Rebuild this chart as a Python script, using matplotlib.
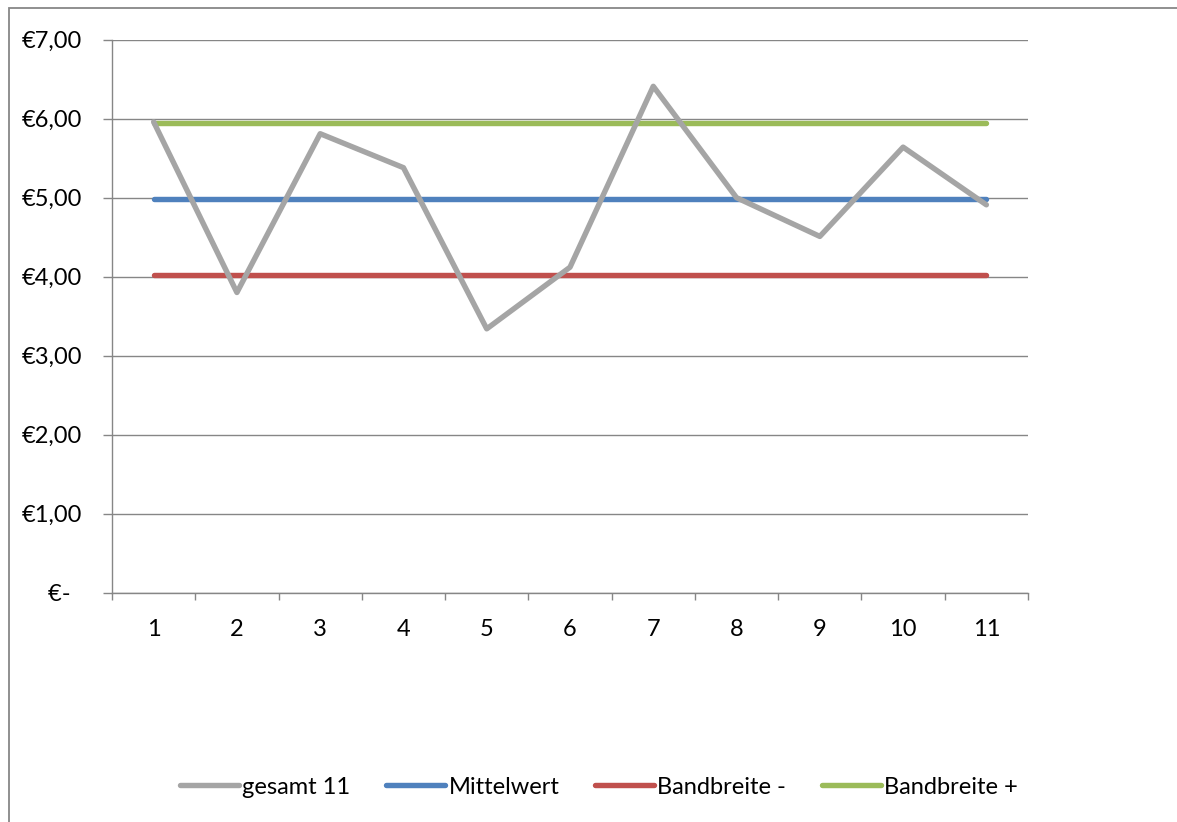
import matplotlib.pyplot as plt
from matplotlib.patches import Rectangle
from matplotlib.ticker import FixedLocator, FuncFormatter

plt.rcParams['font.family'] = ['Lato', 'DejaVu Sans']

# Preisreihe und Bandbreite
nummer = list(range(1, 12))
gesamt = [5.96, 3.80, 5.81, 5.38, 3.34, 4.12, 6.41, 5.00, 4.51, 5.64, 4.91]
mittelwert = [4.98] * 11
band_minus = [4.02] * 11
band_plus = [5.95] * 11

fig = plt.figure(figsize=(11.77, 8.22), dpi=100)
ax = fig.add_axes([112 / 1177, 1 - 592.7 / 822, 916 / 1177, 553 / 822])

lw = 3.9
ax.plot(nummer, gesamt, color='#A5A5A5', lw=lw, solid_capstyle='round', label='gesamt 11', zorder=3)
ax.plot(nummer, mittelwert, color='#4F81BD', lw=lw, solid_capstyle='round', label='Mittelwert', zorder=2)
ax.plot(nummer, band_minus, color='#C0504D', lw=lw, solid_capstyle='round', label='Bandbreite -', zorder=2)
ax.plot(nummer, band_plus, color='#9BBB59', lw=lw, solid_capstyle='round', label='Bandbreite +', zorder=2)

ax.set_xlim(0.5, 11.5)
ax.set_ylim(0, 7)

def euro(v, pos):
    if v == 0:
        return '€-  '
    return '€{:.2f}'.format(v).replace('.', ',')

ax.yaxis.set_major_locator(FixedLocator(range(0, 8)))
ax.yaxis.set_major_formatter(FuncFormatter(euro))
ax.xaxis.set_major_locator(FixedLocator(nummer))
ax.xaxis.set_minor_locator(FixedLocator([i + 0.5 for i in range(0, 12)]))

ax.grid(axis='y', color='#868686', lw=1.0)
ax.set_axisbelow(True)
for s in ['top', 'right']:
    ax.spines[s].set_visible(False)
for s in ['left', 'bottom']:
    ax.spines[s].set_color('#868686')
    ax.spines[s].set_linewidth(1.0)

ax.tick_params(axis='y', length=6.5, width=1.0, color='#868686', pad=15, labelsize=17)
ax.tick_params(axis='x', which='major', length=0, pad=19, labelsize=17)
ax.tick_params(axis='x', which='minor', length=5, width=1.0, color='#868686')

ax.legend(loc='center', bbox_to_anchor=(599 / 1177, 1 - 787 / 822), bbox_transform=fig.transFigure,
          ncol=4, frameon=False, fontsize=17, handlelength=2.5, handletextpad=0.15,
          columnspacing=1.5)

# Rahmen um das Diagramm
fig.patches.append(Rectangle((8.5 / 1177, -0.05), 1.2, 1.05 - 8.5 / 822,
                             transform=fig.transFigure, fill=False,
                             edgecolor='#878787', lw=1.3))

fig.savefig('out.png', dpi=100)
